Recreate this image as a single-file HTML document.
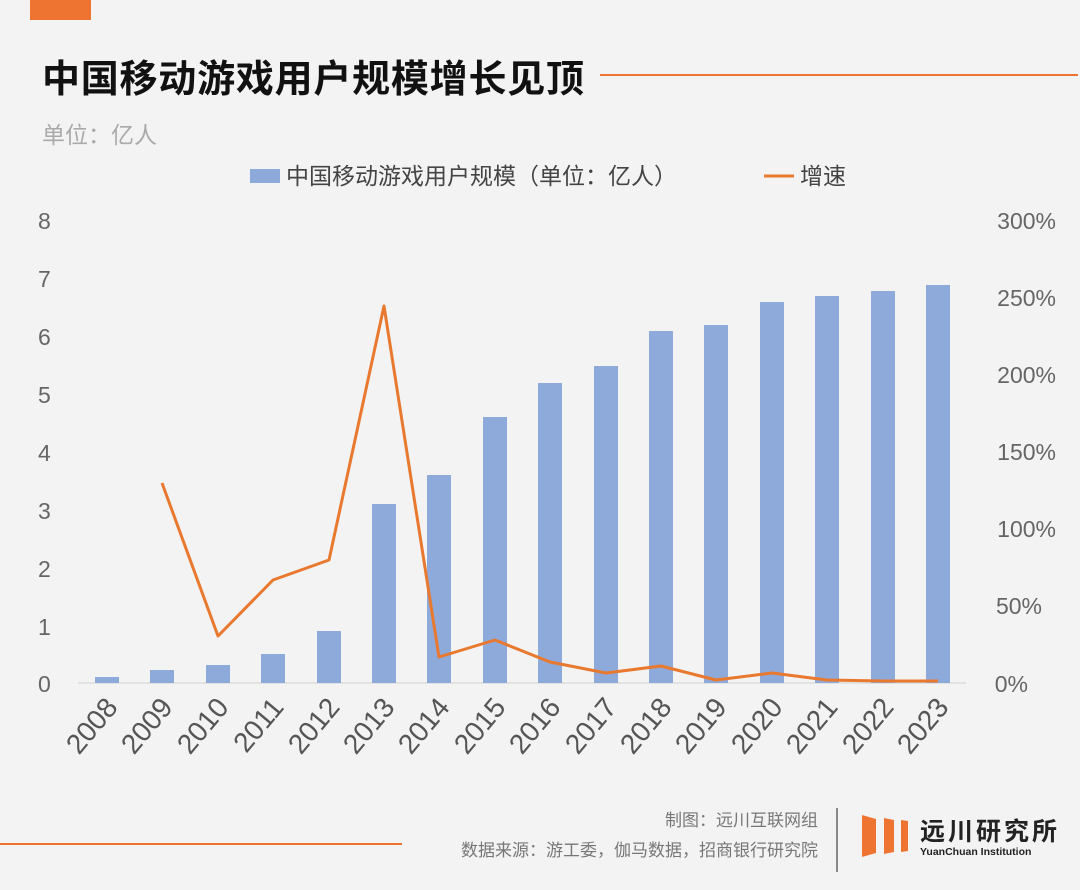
<!DOCTYPE html>
<html><head><meta charset="utf-8"><style>
body{margin:0;background:#f3f3f3;}
svg{display:block;font-family:"Liberation Sans","Noto Sans CJK SC",sans-serif;}
</style></head><body>
<svg width="1080" height="890" viewBox="0 0 1080 890">
<rect width="1080" height="890" fill="#f3f3f3"/>
<rect x="30" y="0" width="61" height="20" fill="#ee7431"/>
<text x="42" y="92" font-size="38" font-weight="bold" fill="#111" textLength="542">中国移动游戏用户规模增长见顶</text>
<line x1="600" y1="75" x2="1078" y2="75" stroke="#ee7431" stroke-width="2"/>
<text x="42" y="143" font-size="23" fill="#aaa">单位：亿人</text>
<rect x="250" y="169" width="30" height="14" fill="#8eaadb"/>
<text x="286" y="184" font-size="23" fill="#444">中国移动游戏用户规模（单位：亿人）</text>
<line x1="764" y1="176" x2="794" y2="176" stroke="#e8792f" stroke-width="3"/>
<text x="800" y="184" font-size="23" fill="#444">增速</text>
<g font-size="23" fill="#666">
<text x="38" y="229">8</text><text x="38" y="287">7</text><text x="38" y="345">6</text><text x="38" y="403">5</text><text x="38" y="461">4</text><text x="38" y="519">3</text><text x="38" y="577">2</text><text x="38" y="635">1</text><text x="38" y="692">0</text>
</g>
<g font-size="23" fill="#666" text-anchor="end">
<text x="1056" y="229">300%</text><text x="1056" y="306">250%</text><text x="1056" y="383">200%</text><text x="1056" y="460">150%</text><text x="1056" y="537">100%</text><text x="1042" y="614">50%</text><text x="1028" y="692">0%</text>
</g>
<line x1="78" y1="683" x2="966" y2="683" stroke="#d0d0d0" stroke-width="1"/>
<g fill="#8eaadb">
<rect x="95" y="677" width="24" height="6"/>
<rect x="150" y="670" width="24" height="13"/>
<rect x="206" y="665" width="24" height="18"/>
<rect x="261" y="654" width="24" height="29"/>
<rect x="317" y="631" width="24" height="52"/>
<rect x="372" y="504" width="24" height="179"/>
<rect x="427" y="475" width="24" height="208"/>
<rect x="483" y="417" width="24" height="266"/>
<rect x="538" y="383" width="24" height="300"/>
<rect x="594" y="366" width="24" height="317"/>
<rect x="649" y="331" width="24" height="352"/>
<rect x="704" y="325" width="24" height="358"/>
<rect x="760" y="302" width="24" height="381"/>
<rect x="815" y="296" width="24" height="387"/>
<rect x="871" y="291" width="24" height="392"/>
<rect x="926" y="285" width="24" height="398"/>
</g>
<polyline fill="none" stroke="#e8792f" stroke-width="3" stroke-linejoin="round" points="162,483 218,636 273,580 329,560 384,306 439,657 495,640 550,662 606,673 661,666 716,680 772,673 827,680 883,681 938,681"/>
<g font-size="28" fill="#555" text-anchor="end">
<text transform="translate(119,708) rotate(-50)">2008</text>
<text transform="translate(174,708) rotate(-50)">2009</text>
<text transform="translate(230,708) rotate(-50)">2010</text>
<text transform="translate(285,708) rotate(-50)">2011</text>
<text transform="translate(341,708) rotate(-50)">2012</text>
<text transform="translate(396,708) rotate(-50)">2013</text>
<text transform="translate(451,708) rotate(-50)">2014</text>
<text transform="translate(507,708) rotate(-50)">2015</text>
<text transform="translate(562,708) rotate(-50)">2016</text>
<text transform="translate(618,708) rotate(-50)">2017</text>
<text transform="translate(673,708) rotate(-50)">2018</text>
<text transform="translate(728,708) rotate(-50)">2019</text>
<text transform="translate(784,708) rotate(-50)">2020</text>
<text transform="translate(839,708) rotate(-50)">2021</text>
<text transform="translate(895,708) rotate(-50)">2022</text>
<text transform="translate(950,708) rotate(-50)">2023</text>
</g>
<line x1="0" y1="844" x2="402" y2="844" stroke="#ee7431" stroke-width="2"/>
<g font-size="17" fill="#777" text-anchor="end">
<text x="818" y="826">制图：远川互联网组</text>
<text x="818" y="856">数据来源：游工委，伽马数据，招商银行研究院</text>
</g>
<line x1="837" y1="808" x2="837" y2="872" stroke="#666" stroke-width="1.5"/>
<polygon points="862,815 876,819 876,853 862,857" fill="#ee7431"/>
<polygon points="884,818 894,820 894,852 884,854" fill="#ee7431"/>
<polygon points="901,820 908,821 908,851 901,852" fill="#ee7431"/>
<text x="920" y="840" font-size="25" font-weight="bold" fill="#222" letter-spacing="3">远川研究所</text>
<text x="920" y="855" font-size="10.5" font-weight="bold" fill="#222">YuanChuan Institution</text>
</svg>
</body></html>
